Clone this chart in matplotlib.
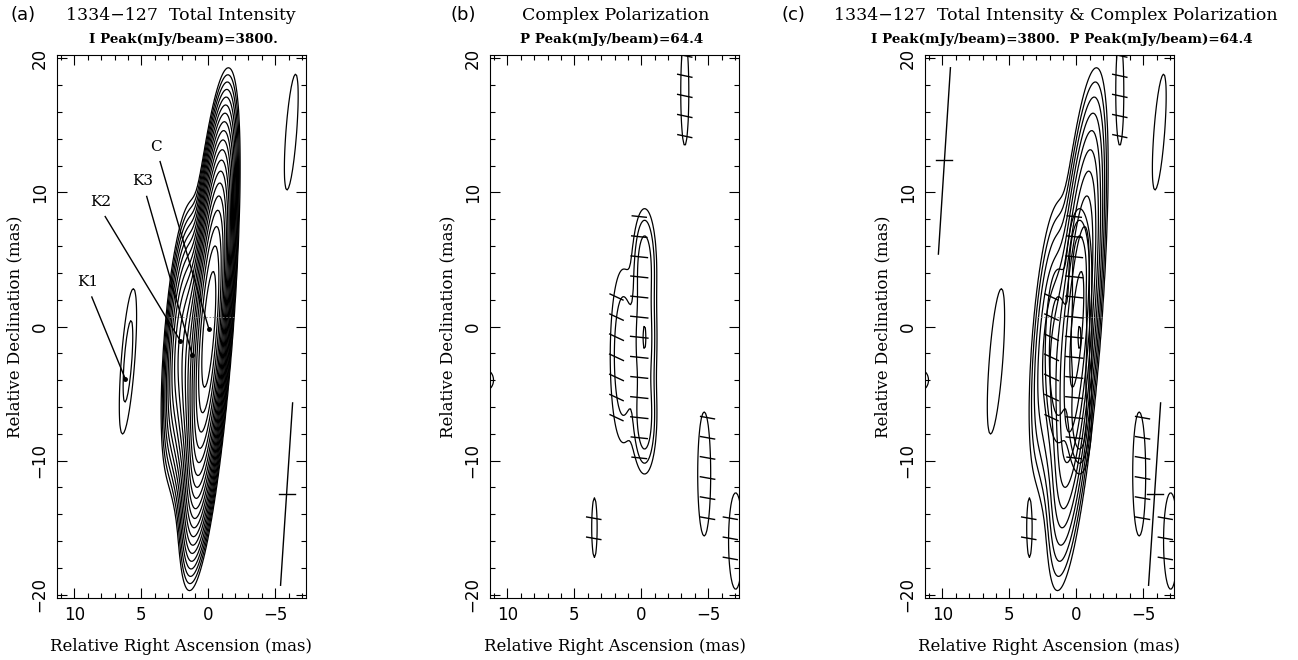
import matplotlib
matplotlib.use('Agg')
import matplotlib.pyplot as plt
import numpy as np
from matplotlib.collections import LineCollection
from matplotlib.ticker import MultipleLocator

# model-fit components marked in panel (a) (RA offset mas, Dec offset mas)
comp_names = ['C', 'K3', 'K2', 'K1']
comp_ra = [-0.05, 1.2, 2.1, 6.2]
comp_dec = [-0.2, -2.1, -1.05, -3.9]
label_ra = [3.9, 4.9, 8.0, 9.0]
label_dec = [12.9, 10.3, 8.8, 2.8]

# Stokes I image components: ra, dec, peak (mJy/beam), sigma along the beam
i_ra = [-0.05, 1.2, 2.1, 6.0, -6.2]
i_dec = [-0.2, -2.1, -1.05, -2.6, 14.5]
i_flux = [3520.0, 230.0, 90.0, 8.3, 6.9]
i_smaj = [5.4, 4.2, 4.2, 5.4, 5.4]

# elongated restoring beam (minor sigma, mas) and tilt (deg)
beam_smin = 0.5
beam_tilt = 4.3

# polarized intensity components (mJy/beam) and EVPA (deg, on the plot)
p_ra = [-0.25, -0.25, -0.25, 1.35, -3.25, -4.7, -7.05, 3.5, 11.6]
p_dec = [4.5, -1.0, -6.8, -2.2, 17.5, -11.0, -16.0, -15.0, -4.0]
p_flux = [40.0, 46.0, 44.0, 22.0, 9.9, 10.7, 10.5, 10.0, 9.3]
p_smaj = [2.2, 2.5, 2.1, 4.0, 4.0, 4.3, 3.4, 2.2, 0.8]
p_smin = [0.45, 0.45, 0.45, 0.6, 0.3, 0.45, 0.5, 0.2, 0.6]
p_evpa = [-6, -6, -6, -25, -12, -10, -10, -10, -10]

i_peak = 3800.
p_peak = 64.4
i_levels_a = [5.0 * np.sqrt(2) ** k for k in range(20)]
i_levels_c = [5.0 * 2 ** k for k in range(10)]
p_levels = [6.0, 12.0, 24.0, 48.0]

# straight marks with a cross bar, (ra0, dec0, ra1, dec1, dec of bar)
mark_a = [(-5.4, -19.3, -6.3, -5.7, -12.5)]
mark_c = [(-5.4, -19.3, -6.3, -5.7, -12.5), (10.3, 5.4, 9.4, 19.3, 12.4)]

xlim = (11.3, -7.3)
ylim = (-20.25, 20.25)

x = np.arange(-8.0, 12.01, 0.1)
y = np.arange(-21.0, 21.01, 0.1)
X, Y = np.meshgrid(x, y)


def blob(x0, y0, amp, smaj, smin, tilt=beam_tilt):
    t = np.radians(tilt)
    dx, dy = X - x0, Y - y0
    u = -dx * np.sin(t) + dy * np.cos(t)
    v = dx * np.cos(t) + dy * np.sin(t)
    return amp * np.exp(-0.5 * (u / smaj) ** 2 - 0.5 * (v / smin) ** 2)


I = np.zeros_like(X)
for ra, dec, f, s in zip(i_ra, i_dec, i_flux, i_smaj):
    I += blob(ra, dec, f, s, beam_smin)

P = np.zeros_like(X)
parts = []
for ra, dec, f, a, b in zip(p_ra, p_dec, p_flux, p_smaj, p_smin):
    g = blob(ra, dec, f, a, b, tilt=0)
    parts.append(g)
    P += g
parts = np.array(parts)


def pol_vectors(ax):
    xn = 0.15 + 1.7 * np.arange(-5, 7)
    yn = 0.7 + 1.5 * np.arange(-15, 15)
    segs = []
    for xv in xn:
        for yv in yn:
            i = np.argmin(np.abs(x - xv))
            j = np.argmin(np.abs(y - yv))
            pv = P[j, i]
            if pv < p_levels[0]:
                continue
            k = np.argmax(parts[:, j, i])
            a = np.radians(p_evpa[k])
            L = 1.1 + 0.6 * pv / p_peak
            dx, dy = -np.cos(a) * L / 2, np.sin(a) * L / 2
            segs.append([(xv - dx, yv - dy), (xv + dx, yv + dy)])
    ax.add_collection(LineCollection(segs, colors='black', linewidths=1.0))


def draw_marks(ax, marks):
    for x0, y0, x1, y1, yb in marks:
        ax.plot([x0, x1], [y0, y1], color='black', lw=1.0)
        xb = x0 + (x1 - x0) * (yb - y0) / (y1 - y0)
        ax.plot([xb + 0.6, xb - 0.6], [yb, yb], color='black', lw=1.0)


def setup_axes(ax):
    ax.set_xlim(xlim)
    ax.set_ylim(ylim)
    ax.xaxis.set_minor_locator(MultipleLocator(1))
    ax.yaxis.set_minor_locator(MultipleLocator(2))
    ax.tick_params(which='both', direction='in', top=True, right=True, width=0.8,
                   labelsize=12, pad=6)
    ax.tick_params(which='major', length=7)
    ax.tick_params(which='minor', length=3.5)
    ax.set_xticks([10, 5, 0, -5])
    ax.set_xticklabels(['10', '5', '0', '\u22125'])
    ax.set_yticks([-20, -10, 0, 10, 20])
    ax.set_yticklabels(['\u221220', '\u221210', '0', '10', '20'], rotation=90, va='center')
    for s in ax.spines.values():
        s.set_linewidth(0.8)
    ax.set_xlabel('Relative Right Ascension (mas)', family='DejaVu Serif', fontsize=12, labelpad=10)
    ax.set_ylabel('Relative Declination (mas)', family='DejaVu Serif', fontsize=12, labelpad=5)


W, H = 1298, 660
fig = plt.figure(figsize=(W / 100, H / 100), dpi=100)
lefts = [57, 490, 925]
axs = [fig.add_axes([l / W, 62 / H, 249 / W, 543 / H]) for l in lefts]

# (a) total intensity
ax = axs[0]
ax.contour(X, Y, I, levels=i_levels_a, colors='black', linewidths=0.9)
ax.plot([2.9, -1.9], [0.7, 0.7], color='gray', lw=0.6, ls=(0, (2, 2)))
for n, ra, dec, lra, ldec in zip(comp_names, comp_ra, comp_dec, label_ra, label_dec):
    ax.plot([lra - 0.3, ra], [ldec - 0.6, dec], color='black', lw=1.0)
    ax.plot(ra, dec, 'o', color='black', ms=2.5)
    ax.text(lra, ldec, n, family='DejaVu Serif', fontsize=11, ha='center', va='bottom')
draw_marks(ax, mark_a)
setup_axes(ax)

# (b) polarization
ax = axs[1]
ax.contour(X, Y, P, levels=p_levels, colors='black', linewidths=0.9)
pol_vectors(ax)
setup_axes(ax)

# (c) both
ax = axs[2]
ax.contour(X, Y, I, levels=i_levels_c, colors='black', linewidths=0.9)
ax.contour(X, Y, P, levels=p_levels, colors='black', linewidths=0.9)
ax.plot([2.9, -1.9], [0.7, 0.7], color='gray', lw=0.6, ls=(0, (2, 2)))
pol_vectors(ax)
draw_marks(ax, mark_c)
setup_axes(ax)


# headers
def ftext(px, py, s, **kw):
    fig.text(px / W, 1 - py / H, s, **kw)


serif = 'DejaVu Serif'
ftext(23, 15, '(a)', fontsize=13, ha='center', va='center')
ftext(181, 15, '1334\u2212127  Total Intensity', family=serif, fontsize=12.5, ha='center', va='center')
ftext(183, 40, 'I Peak(mJy/beam)=%d.' % i_peak, family=serif, fontsize=9.7, weight='bold', ha='center', va='center')

ftext(463, 15, '(b)', fontsize=13, ha='center', va='center')
ftext(616, 15, 'Complex Polarization', family=serif, fontsize=12.5, ha='center', va='center')
ftext(612, 40, 'P Peak(mJy/beam)=%.1f' % p_peak, family=serif, fontsize=9.7, weight='bold', ha='center', va='center')

ftext(793, 15, '(c)', fontsize=13, ha='center', va='center')
ftext(1056, 15, '1334\u2212127  Total Intensity & Complex Polarization', family=serif, fontsize=12.5, ha='center', va='center')
ftext(1062, 40, 'I Peak(mJy/beam)=%d.  P Peak(mJy/beam)=%.1f' % (i_peak, p_peak), family=serif, fontsize=9.7,
      weight='bold', ha='center', va='center')

fig.savefig('out.png', dpi=100)
